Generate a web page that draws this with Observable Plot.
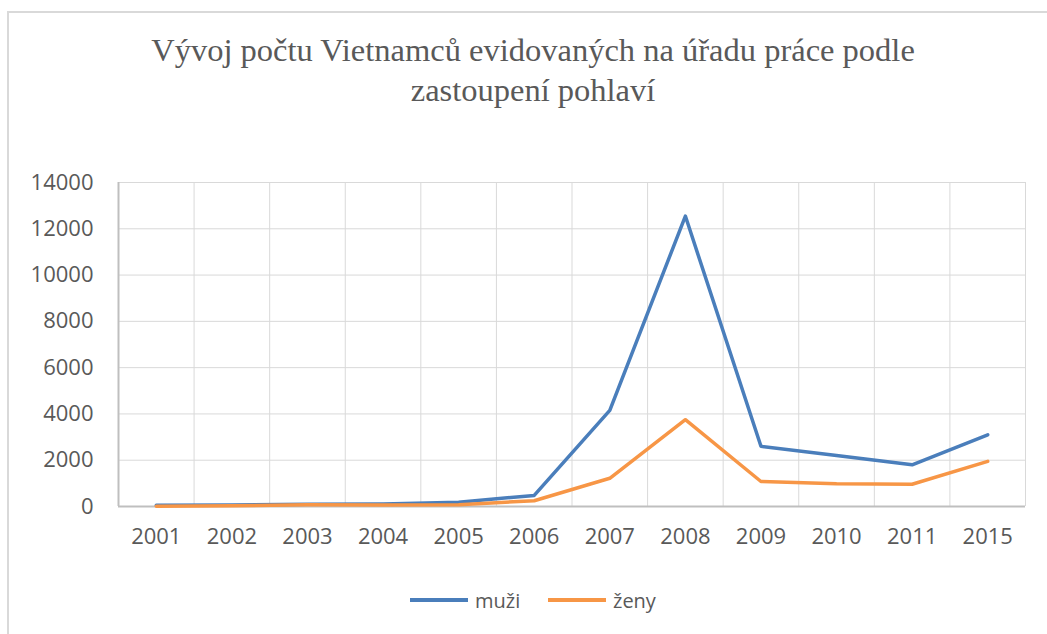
<!DOCTYPE html>
<html>
<head>
<meta charset="utf-8">
<script src="https://cdn.jsdelivr.net/npm/d3@7"></script>
<script src="https://cdn.jsdelivr.net/npm/@observablehq/plot@0.6"></script>
<style>
  html, body { margin: 0; padding: 0; background: #fff; }
  #wrap { position: relative; width: 1047px; height: 634px; overflow: hidden; background: #fff; }
  #frame { position: absolute; left: 7px; top: 11px; width: 1100px; height: 700px; border: 2px solid #d9d9d9; box-sizing: border-box; }
  #title { position: absolute; left: 0; width: 1066px; top: 29.5px; text-align: center; font-family: "Liberation Serif", "DejaVu Serif", serif; font-size: 32.5px; line-height: 40px; color: #595959; }
  #chart { position: absolute; left: 0; top: 150px; }
  #legend { position: absolute; top: 586px; left: 0; width: 1047px; height: 30px; font-family: "Open Sans", sans-serif; font-size: 20px; color: #595959; }
  .item { position: absolute; top: 0; display: flex; align-items: center; height: 28px; }
  .swatch { width: 58px; height: 3.5px; margin-right: 7px; }
</style>
</head>
<body>
<div id="wrap">
  <div id="frame"></div>
  <div id="title">Vývoj počtu Vietnamců evidovaných na úřadu práce podle<br>zastoupení pohlaví</div>
  <div id="chart"></div>
  <div id="legend"></div>
</div>
<script>
const years = ["2001","2002","2003","2004","2005","2006","2007","2008","2009","2010","2011","2015"];
const muzi  = [55, 70, 100, 110, 180, 480, 4150, 12550, 2600, 2200, 1800, 3100];
const zeny  = [10, 30, 80, 60, 80, 250, 1220, 3750, 1080, 980, 960, 1950];
const yTicks = [0, 2000, 4000, 6000, 8000, 10000, 12000, 14000];
const seriesNames = ["muži", "ženy"];
const seriesColors = ["#4a7ebb", "#f79646"];

const rows = [];
years.forEach((y, i) => {
  rows.push({i, year: y, value: muzi[i], series: seriesNames[0]});
  rows.push({i, year: y, value: zeny[i], series: seriesNames[1]});
});
const bounds = d3.range(-0.5, years.length, 1);

const chart = Plot.plot({
  width: 1047,
  height: 410,
  marginTop: 32,
  marginBottom: 54,
  marginLeft: 118,
  marginRight: 22,
  style: {fontFamily: "'Open Sans', sans-serif", fontSize: "22px", color: "#595959", background: "transparent"},
  x: {domain: [-0.5, years.length - 0.5], axis: null},
  y: {domain: [0, 14000], axis: null},
  color: {domain: seriesNames, range: seriesColors},
  marks: [
    Plot.ruleY(yTicks.filter(d => d > 0), {stroke: "#d9d9d9", strokeWidth: 1}),
    Plot.ruleX(bounds.slice(1), {stroke: "#d9d9d9", strokeWidth: 1}),
    Plot.ruleX([-0.5], {stroke: "#bfbfbf", strokeWidth: 2}),
    Plot.ruleY([0], {stroke: "#bfbfbf", strokeWidth: 2}),
    Plot.axisY({ticks: yTicks, tickSize: 0, tickPadding: 25, tickFormat: d => String(d), fill: "#595959", fontSize: 22, label: null}),
    Plot.axisX({ticks: d3.range(years.length), tickSize: 0, tickPadding: 22, tickFormat: i => years[i], fill: "#595959", fontSize: 22, label: null}),
    Plot.line(rows, {x: "i", y: "value", z: "series", stroke: "series", strokeWidth: 3.5, strokeLinejoin: "round", strokeLinecap: "round"})
  ]
});
document.getElementById("chart").appendChild(chart);

const legend = document.getElementById("legend");
const lefts = [410, 548];
seriesNames.forEach((n, k) => {
  const it = document.createElement("div");
  it.className = "item";
  it.style.left = lefts[k] + "px";
  const sw = document.createElement("div");
  sw.className = "swatch";
  sw.style.background = seriesColors[k];
  const tx = document.createElement("span");
  tx.textContent = n;
  it.appendChild(sw);
  it.appendChild(tx);
  legend.appendChild(it);
});
</script>
</body>
</html>
